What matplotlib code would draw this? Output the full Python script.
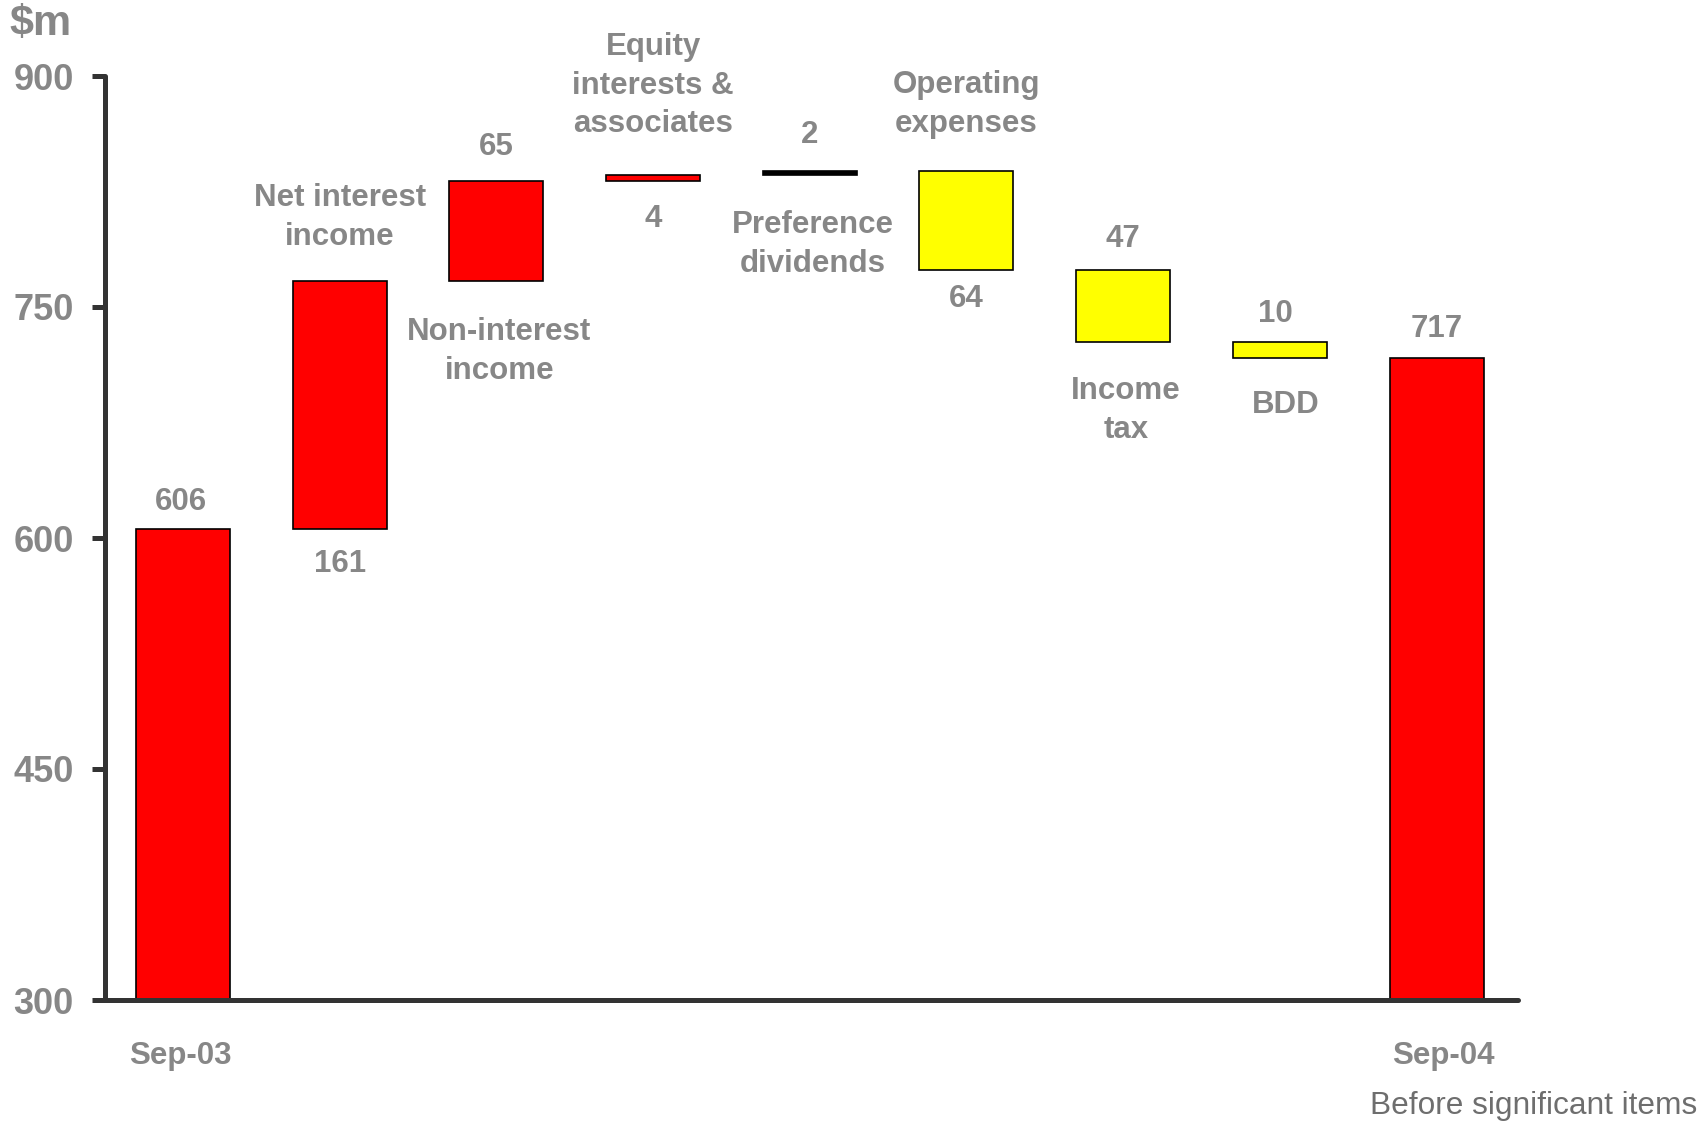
import matplotlib
matplotlib.use("Agg")
import matplotlib.pyplot as plt
import numpy as np

plt.rcParams['font.family'] = ['Liberation Sans', 'DejaVu Sans']

# Profit bridge, $m
start_label = "Sep-03"
end_label = "Sep-04"
start_value = 606
end_value = 717
step_names = ["Net interest\nincome", "Non-interest\nincome", "Equity\ninterests &\nassociates",
              "Preference\ndividends", "Operating\nexpenses", "Income\ntax", "BDD"]
step_values = [161, 65, 4, 2, -64, -47, -10]
step_colors = ["#ff0000", "#ff0000", "#ff0000", "#000000", "#ffff00", "#ffff00", "#ffff00"]
# where each step's name sits relative to its bar (value label goes on the other side)
name_side = ["above", "below", "above", "below", "above", "below", "below"]
y_ticks = [300, 450, 600, 750, 900]

GREY = "#878787"
AXIS = "#333333"
FS = 22.5

fig = plt.figure(figsize=(16.98, 11.23), dpi=100)
W, H = 1698, 1123
ax = fig.add_axes([105 / W, 1 - 1000 / H, (1518 - 105) / W, (1000 - 76) / H])

n = len(step_values) + 2
bar_w = 0.6

# first and last totals
ax.bar(0, start_value - 300, bottom=300, width=bar_w, color="#ff0000", edgecolor="black", linewidth=1.2, zorder=2)
ax.bar(n - 1, end_value - 300, bottom=300, width=bar_w, color="#ff0000", edgecolor="black", linewidth=1.2, zorder=2)

level = start_value
tops, bottoms = [], []
for i, (v, c) in enumerate(zip(step_values, step_colors), start=1):
    lo, hi = (level, level + v) if v >= 0 else (level + v, level)
    ax.bar(i, hi - lo, bottom=lo, width=bar_w, color=c, edgecolor="black", linewidth=1.2, zorder=2)
    tops.append(hi)
    bottoms.append(lo)
    level += v

def put(x, y, dy_px, s, dx_px=0):
    ax.annotate(s, xy=(x, y), xytext=(dx_px * 0.72, dy_px * 0.72), textcoords="offset points",
                ha="center", va="center", fontsize=FS, fontweight="bold", color=GREY,
                linespacing=1.38, annotation_clip=False)

# totals labels
put(0, start_value, 27, f"{start_value}", -2)
put(n - 1, end_value, 29, f"{end_value}")

# step labels: (value offset, name offset, name x shift) in pixels
offsets = {
    1: (-35, 63, 0),
    2: (34, -71, 3),
    3: (-38, 89, 0),
    4: (36, -70, 3),
    5: (-29, 67, 0),
    6: (31, -68, 3),
    7: (28, -47, 6),
}
for i, (name, v, side) in enumerate(zip(step_names, step_values, name_side), start=1):
    top, bot = tops[i - 1], bottoms[i - 1]
    val_off, name_off, name_dx = offsets[i]
    label = f"{abs(v)}"
    if side == "above":
        put(i, top, name_off, name, name_dx)
        put(i, bot, val_off, label)
    else:
        put(i, top, val_off, label, -4 if i == 7 else 0)
        put(i, bot, name_off, name, name_dx)

# axes styling
ax.set_xlim(-0.498, 8.52)
ax.set_ylim(300, 900)
ax.set_yticks(y_ticks)
ax.set_yticklabels([str(t) for t in y_ticks])
ax.set_xticks([])
for s in ["top", "right"]:
    ax.spines[s].set_visible(False)
for s in ["left", "bottom"]:
    ax.spines[s].set_linewidth(3.6)
    ax.spines[s].set_color(AXIS)
    ax.spines[s].set_capstyle("round")
ax.tick_params(axis="y", length=9.4, width=3.6, color=AXIS, pad=13,
               labelsize=26, labelcolor=GREY)
for lab in ax.get_yticklabels():
    lab.set_fontweight("bold")
for t in ax.yaxis.get_ticklines():
    t.set_solid_capstyle("round")

# period labels under the axis
for x, s, dx in [(0, start_label, -3), (n - 1, end_label, 7)]:
    ax.annotate(s, xy=(x, 0), xycoords=("data", "axes fraction"), xytext=(dx * 0.72, -56 * 0.72),
                textcoords="offset points", ha="center", va="center", fontsize=FS,
                fontweight="bold", color=GREY, annotation_clip=False)

fig.text(41 / W, 1 - 24 / H, "$m", ha="center", va="center", fontsize=31,
         fontweight="bold", color=GREY)
fig.text(1697 / W, 1 - 1106 / H, "Before significant items", ha="right", va="center",
         fontsize=22.8, color="#6e6e6e")

fig.savefig("out.png", dpi=100, facecolor="white")
